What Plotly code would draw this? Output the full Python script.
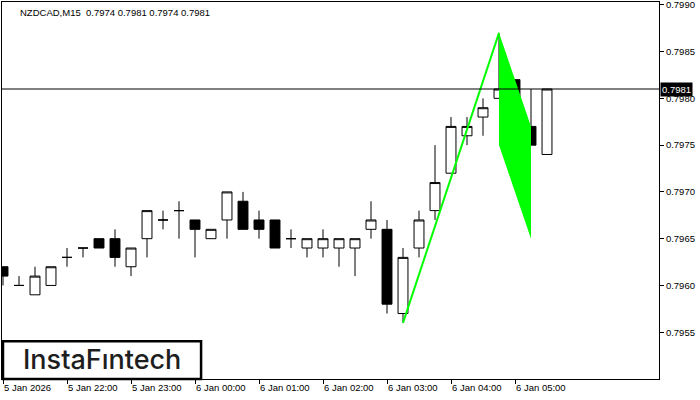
import plotly.graph_objects as go
import pandas as pd

# NZDCAD M15 bars, 5 Jan 2026 21:00 .. 6 Jan 2026 05:30
times = pd.date_range("2026-01-05 21:00", periods=35, freq="15min")
opens = [0.7962, 0.7960, 0.7959, 0.7960, 0.7963, 0.7964, 0.7965, 0.7965, 0.7962, 0.7965,
         0.7967, 0.7968, 0.7967, 0.7965, 0.7967, 0.7969, 0.7967, 0.7967, 0.7965, 0.7964,
         0.7964, 0.7964, 0.7964, 0.7966, 0.7966, 0.7957, 0.7964, 0.7968, 0.7972, 0.7976,
         0.7978, 0.7980, 0.7982, 0.7977, 0.7974]
highs = [0.7962, 0.7961, 0.7962, 0.7962, 0.7964, 0.7964, 0.7965, 0.7966, 0.7964, 0.7968,
         0.7968, 0.7969, 0.7967, 0.7966, 0.7970, 0.7970, 0.7968, 0.7967, 0.7966, 0.7965,
         0.7966, 0.7965, 0.7965, 0.7969, 0.7967, 0.7964, 0.7968, 0.7975, 0.7978, 0.7978,
         0.7980, 0.7987, 0.7982, 0.7981, 0.7981]
lows = [0.7960, 0.7960, 0.7959, 0.7960, 0.7962, 0.7963, 0.7964, 0.7962, 0.7961, 0.7963,
        0.7966, 0.7965, 0.7963, 0.7965, 0.7965, 0.7966, 0.7965, 0.7964, 0.7964, 0.7963,
        0.7963, 0.7962, 0.7961, 0.7965, 0.7957, 0.7956, 0.7963, 0.7967, 0.7972, 0.7975,
        0.7976, 0.7980, 0.7974, 0.7975, 0.7974]
closes = [0.7961, 0.7960, 0.7961, 0.7962, 0.7963, 0.7964, 0.7964, 0.7963, 0.7964, 0.7968,
          0.7967, 0.7968, 0.7966, 0.7966, 0.7970, 0.7966, 0.7966, 0.7964, 0.7965, 0.7965,
          0.7965, 0.7965, 0.7965, 0.7967, 0.7958, 0.7963, 0.7967, 0.7971, 0.7977, 0.7977,
          0.7979, 0.7981, 0.7976, 0.7975, 0.7981]

# bearish flag pattern: pole and flag body
pole_times = ["2026-01-06 03:15", "2026-01-06 04:45"]
pole_prices = [0.7956, 0.7987]
flag_times = ["2026-01-06 04:45", "2026-01-06 05:15", "2026-01-06 05:15", "2026-01-06 04:45"]
flag_prices = [0.7987, 0.7977, 0.7965, 0.7975]

tick_times = ["2026-01-05 21:00", "2026-01-05 22:00", "2026-01-05 23:00", "2026-01-06 00:00",
              "2026-01-06 01:00", "2026-01-06 02:00", "2026-01-06 03:00", "2026-01-06 04:00",
              "2026-01-06 05:00"]
tick_labels = ["5 Jan 2026", "5 Jan 22:00", "5 Jan 23:00", "6 Jan 00:00", "6 Jan 01:00",
               "6 Jan 02:00", "6 Jan 03:00", "6 Jan 04:00", "6 Jan 05:00"]
price_ticks = [0.7955, 0.7960, 0.7965, 0.7970, 0.7975, 0.7980, 0.7985, 0.7990]

GREEN = "#00ff00"
FONT = "Liberation Sans"

fig = go.Figure()

fig.add_trace(go.Scatter(x=flag_times, y=flag_prices, mode="lines", fill="toself",
                         fillcolor=GREEN, line=dict(width=0, color=GREEN), hoverinfo="skip"))

fig.add_trace(go.Candlestick(
    x=times, open=opens, high=highs, low=lows, close=closes,
    increasing=dict(line=dict(color="black", width=1), fillcolor="white"),
    decreasing=dict(line=dict(color="black", width=1), fillcolor="black"),
))

fig.add_trace(go.Scatter(x=pole_times, y=pole_prices, mode="lines",
                         line=dict(color=GREEN, width=2), hoverinfo="skip"))

last = closes[-1]
fig.add_hline(y=last, line=dict(color="black", width=1))

fig.add_annotation(x=1, xref="paper", y=last, yref="y", xanchor="left", xshift=1,
                   text=f"{last:.4f}", showarrow=False, bgcolor="black", borderpad=1,
                   font=dict(color="white", size=9.5, family=FONT))

title = f"NZDCAD,M15\u00a0\u00a0{opens[-1]:.4f} {highs[-1]:.4f} {lows[-1]:.4f} {closes[-1]:.4f}"
fig.add_annotation(x=0.0244, xref="paper", y=0.972, yref="paper", xanchor="left",
                   yanchor="middle", text=title, showarrow=False,
                   font=dict(color="black", size=9.5, family=FONT))

# logo box
fig.add_shape(type="rect", xref="paper", yref="paper", x0=0.0015, x1=0.303, y0=0, y1=0.1,
              line=dict(color="black", width=2.5), fillcolor="white", layer="above")
fig.add_annotation(x=0.152, xref="paper", y=0.052, yref="paper", text="InstaFıntech",
                   xanchor="center", yanchor="middle", showarrow=False,
                   font=dict(family="Inter", size=27, color="#1e1e1e", weight=500))

fig.update_xaxes(
    type="date",
    range=["2026-01-05 20:59:03.75", "2026-01-06 07:15"],
    tickvals=tick_times, ticktext=tick_labels,
    ticks="outside", ticklen=4, tickcolor="black",
    ticklabelposition="outside right", ticklabeloverflow="allow",
    showline=True, linecolor="black", linewidth=1, mirror=True,
    showgrid=False, zeroline=False, automargin=False,
    rangeslider=dict(visible=False),
    tickfont=dict(family=FONT, size=9.5, color="black"),
)
fig.update_yaxes(
    side="right",
    range=[0.7950, 0.79903],
    tickvals=price_ticks, tickformat=".4f",
    ticks="outside", ticklen=4, tickcolor="black", ticklabeloverflow="allow",
    showline=True, linecolor="black", linewidth=1, mirror=True,
    showgrid=False, zeroline=False, automargin=False,
    tickfont=dict(family=FONT, size=9.5, color="black"),
)

fig.update_layout(
    width=700, height=400,
    margin=dict(l=2, r=41, t=2, b=21),
    paper_bgcolor="white", plot_bgcolor="white",
    showlegend=False, boxgap=0.38, boxgroupgap=0,
    font=dict(family=FONT, size=9.5, color="black"),
)

fig.write_html("out.html", config={"displayModeBar": False},
               post_script="document.body.style.margin='0';")
